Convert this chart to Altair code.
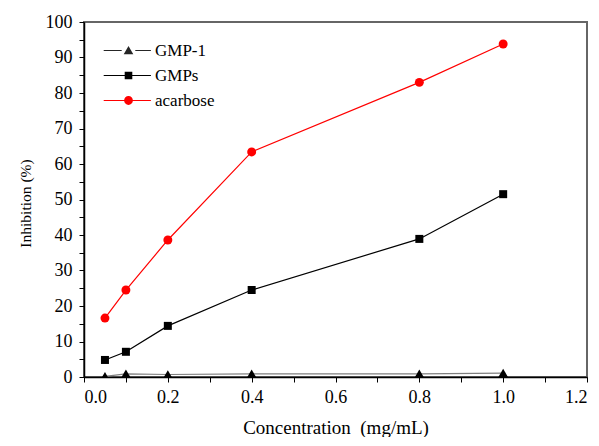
import altair as alt
import pandas as pd

conc = [0.05, 0.1, 0.2, 0.4, 0.8, 1.0]
gmp1 = [0.2, 0.9, 0.7, 0.9, 0.9, 1.1]
gmps = [4.8, 7.1, 14.4, 24.5, 38.9, 51.5]
acarbose = [16.6, 24.5, 38.6, 63.4, 83.0, 93.8]

series_names = ["GMP-1", "GMPs", "acarbose"]
line_colors = ["#7f7f7f", "#000000", "#ff0000"]
marker_colors = ["#000000", "#000000", "#ff0000"]
legend_colors = ["#262626", "#000000", "#ff0000"]
marker_shapes = ["triangle-up", "square", "circle"]
marker_sizes = [100, 64, 80]
legend_paths = [
    "M-6.2,-0.14H-1.7V0.14H-6.2ZM1.7,-0.14H5.6V0.14H1.7ZM0,-1.1L1.2,0.95L-1.2,0.95Z",
    "M-6.2,-0.14H5.6V0.14H-6.2ZM-0.95,-0.95H0.95V0.95H-0.95Z",
    "M-6.2,-0.14H5.6V0.14H-6.2ZM1.1,0A1.1,1.1 0 1,1 -1.1,0A1.1,1.1 0 1,1 1.1,0Z",
]

x_ticks = [0.0, 0.1, 0.2, 0.3, 0.4, 0.5, 0.6, 0.7, 0.8, 0.9, 1.0, 1.1, 1.2]
y_ticks = list(range(0, 101, 5))

rows = []
for name, vals in zip(series_names, [gmp1, gmps, acarbose]):
    for c, v in zip(conc, vals):
        rows.append({"series": name, "conc": c, "inhib": v})
df = pd.DataFrame(rows)

legend_df = pd.DataFrame({"series": series_names, "conc": [None] * 3, "inhib": [None] * 3})

FONT = "Liberation Serif, Times New Roman, DejaVu Serif, serif"

x_enc = alt.X(
    "conc:Q",
    scale=alt.Scale(domain=[0, 1.2], nice=False, zero=False),
    axis=alt.Axis(
        values=x_ticks,
        labelExpr="round(datum.value*10) % 2 == 0 ? format(datum.value, '.1f') : ''",
        labelOverlap=False,
        labelPadding=6,
        title="Concentration\u00a0 (mg/mL)",
        titleFontSize=19,
        titlePadding=12,
    ),
)
y_enc = alt.Y(
    "inhib:Q",
    scale=alt.Scale(domain=[0, 100], nice=False),
    axis=alt.Axis(
        values=y_ticks,
        labelExpr="datum.value % 10 == 0 ? datum.label : ''",
        labelOverlap=False,
        labelPadding=7,
        title="Inhibition (%)",
        titleFontSize=15.5,
        titleY=181,
        titleX=-51,
    ),
)

base = alt.Chart(df).encode(x=x_enc, y=y_enc)

layers = []
for name, col in zip(series_names, line_colors):
    layers.append(
        base.transform_filter(alt.datum.series == name)
        .mark_line(strokeWidth=1.2, color=col, clip=True)
    )

for name, shp, col, sz in zip(series_names, marker_shapes, marker_colors, marker_sizes):
    layers.append(
        base.transform_filter(alt.datum.series == name)
        .mark_point(shape=shp, filled=True, size=sz, color=col, opacity=1, clip=True)
    )

legend_layer = alt.Chart(legend_df).mark_point(
    filled=True, opacity=1, size=64, clip=True, strokeWidth=0
).encode(
    x=x_enc,
    y=y_enc,
    fill=alt.Fill(
        "series:N",
        scale=alt.Scale(domain=series_names, range=legend_colors),
        legend=alt.Legend(
            orient="none", legendX=36, legendY=20, title=None,
            symbolStrokeWidth=0, symbolSize=64, labelOffset=18,
            rowPadding=7, labelFontSize=17, labelFont=FONT, labelColor="black",
            padding=0,
        ),
    ),
    shape=alt.Shape(
        "series:N",
        scale=alt.Scale(domain=series_names, range=legend_paths),
    ),
)
layers.append(legend_layer)

chart = (
    alt.layer(*layers)
    .properties(
        width=503,
        height=355,
        autosize=alt.AutoSizeParams(type="none"),
        padding={"left": 76, "top": 14, "right": 4, "bottom": 60},
    )
    .configure(font=FONT)
    .configure_view(stroke="#666666", strokeWidth=2)
    .configure_axis(
        grid=False,
        domainColor="black",
        domainWidth=1.5,
        tickColor="black",
        tickSize=5,
        tickWidth=1,
        labelFont=FONT,
        labelFontSize=18,
        labelColor="black",
        titleFont=FONT,
        titleFontWeight="normal",
        titleColor="black",
    )
)

chart.save("out.html", embed_options={"renderer": "svg", "actions": False})
